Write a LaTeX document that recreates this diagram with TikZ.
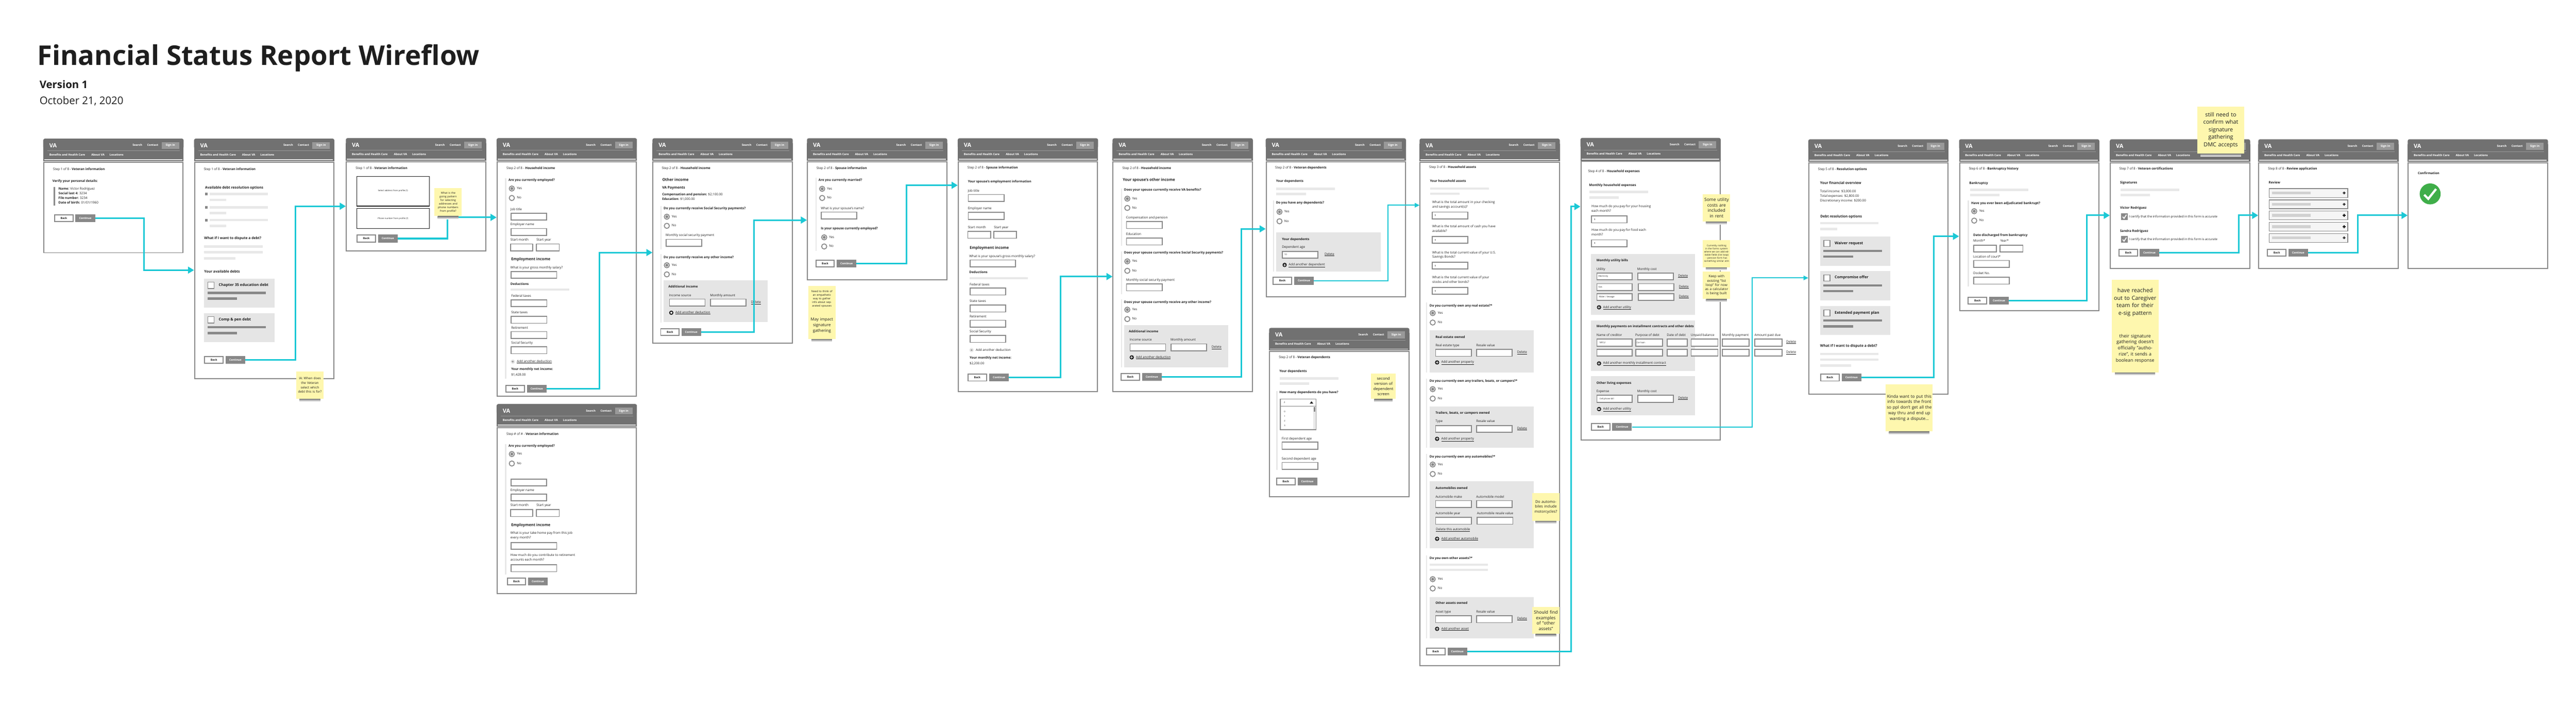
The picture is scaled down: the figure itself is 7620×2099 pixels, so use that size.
\documentclass[tikz,border=0pt]{standalone}
\usepackage{fontspec}
\setmainfont{Open Sans}
\usetikzlibrary{arrows.meta}
\definecolor{hdr}{HTML}{717171}
\definecolor{edge}{HTML}{888888}
\definecolor{signb}{HTML}{999999}
\definecolor{pale}{HTML}{E8E8E8}
\definecolor{panel}{HTML}{E5E5E5}
\definecolor{darkbar}{HTML}{888888}
\definecolor{cyanflow}{HTML}{1BC8D5}
\definecolor{note}{HTML}{FEF7AE}
\definecolor{ink}{HTML}{1E1E1E}
\definecolor{okgreen}{HTML}{3FAE49}
\newcount\nn
\newcommand\nextn{\global\advance\nn by 1\relax}
\newcommand\frg{\fontsize{9.55}{11}\selectfont}
\tikzset{
  txt/.style={anchor=west,inner sep=0pt,text height=7pt,text depth=2.2pt,text=ink,font=\frg},
  btxt/.style={txt,font=\frg\bfseries},
  head/.style={txt,font=\fontsize{11.3}{13}\selectfont\bfseries,text height=8pt,text depth=3pt},
  subhead/.style={txt,font=\fontsize{10.4}{12}\selectfont\bfseries,text height=7.6pt,text depth=2.6pt},
  small/.style={txt,font=\fontsize{6.4}{7}\selectfont},
  hlink/.style={anchor=west,inner sep=0pt,text=white,font=\fontsize{8.5}{10}\selectfont\bfseries,text height=6.4pt,text depth=1.8pt},
  framebox/.style={draw=edge,line width=3pt,fill=white,anchor=north west,inner sep=0pt},
  backb/.style={draw=edge,line width=3pt,fill=white,inner sep=0pt,minimum width=54.5pt,minimum height=20pt,anchor=west,text=ink,font=\fontsize{8}{9}\selectfont\bfseries},
  contb/.style={fill=edge,inner sep=0pt,minimum width=58pt,minimum height=23pt,anchor=west,text=white,font=\fontsize{8}{9}\selectfont\bfseries},
  flowline/.style={draw=cyanflow,line width=4.6pt,-{Triangle[length=18pt,width=20pt]}},
  flowthin/.style={draw=cyanflow,line width=2.8pt,-{Triangle[length=14pt,width=13pt]}},
  stickynote/.style={fill=note,anchor=north west,inner sep=3pt,align=center,text=ink},
  inbox/.style={draw=edge,line width=2.6pt,fill=white},
}
\newcommand\tx[3]{\nextn\node[txt] (n\the\nn) at (#1,#2) {#3};}
\newcommand\bx[3]{\nextn\node[btxt] (n\the\nn) at (#1,#2) {#3};}
\newcommand\hx[3]{\nextn\node[head] (n\the\nn) at (#1,#2) {#3};}
\newcommand\shx[3]{\nextn\node[subhead] (n\the\nn) at (#1,#2) {#3};}
\newcommand\sx[3]{\nextn\node[small] (n\the\nn) at (#1,#2) {#3};}
\newcommand\ulx[3]{\nextn\node[txt] (n\the\nn) at (#1,#2) {\underline{#3}};}
\newcommand\gbar[3]{\fill[pale] ({#1},{#2-3.5}) rectangle ({#1+#3},{#2+3.5});}
\newcommand\dbar[3]{\fill[darkbar] ({#1},{#2-3.5}) rectangle ({#1+#3},{#2+3.5});}
\newcommand\vb[3]{\fill[pale] ({#1},{#2}) rectangle ({#1+4},{#3});}
\newcommand\pan[4]{\fill[panel] ({#1},{#2}) rectangle ({#1+#3},{#4});}
\newcommand\inp[3]{\draw[inbox] ({#1+1.3},{#2+1.3}) rectangle ({#1+#3-1.3},{#2+21.7});}
\newcommand\yn[4]{%
  \draw[edge,line width=2.6pt,fill=white] (#1,#2) circle[radius=7.6pt];
  \fill[edge] (#1,#2) circle[radius=4.4pt];
  \tx{#4}{#2}{Yes}
  \draw[edge,line width=2.6pt,fill=white] (#1,#3) circle[radius=7.6pt];
  \tx{#4}{#3}{No}}
\newcommand\plusd[2]{\fill[ink] (#1,#2) circle[radius=6.4pt];
  \fill[white] ({#1-3.6},{#2-1}) rectangle ({#1+3.6},{#2+1}); \fill[white] ({#1-1},{#2-3.6}) rectangle ({#1+1},{#2+3.6});}
\newcommand\plusl[2]{\fill[panel] (#1,#2) circle[radius=6.4pt];
  \fill[darkbar] ({#1-3},{#2-.7}) rectangle ({#1+3},{#2+.7}); \fill[darkbar] ({#1-.7},{#2-3}) rectangle ({#1+.7},{#2+3});}
\newcommand\chk[2]{\draw[edge,line width=1.8pt,fill=white] ({#1+.9},{#2-9.5}) rectangle ({#1+19.1},{#2+9.5});}
\newcommand\card[4]{\fill[panel] (#1,#2) rectangle ({#1+208},{#3});
  \chk{#1+10}{#2+20}
  \nextn\node[txt,font=\fontsize{11.1}{13}\selectfont\bfseries] (n\the\nn) at ({#1+43},{#2+20}) {#4};
  \dbar{#1+10}{#2+42}{173} \dbar{#1+10}{#2+59}{87}}
\newcommand\btns[4]{\node[backb] (#1-back) at (#2,#4) {Back}; \node[contb] (#1-cont) at (#3,#4) {Continue};}
% screen: name, x, y, height
\newenvironment{screen}[4]{%
 \begin{scope}[shift={(#2,#3)}]
  \node[framebox,minimum width=412pt,minimum height={#4-71}] (#1) at (0,68) {};
  \fill[hdr,rounded corners=5pt] (0,0) rectangle (415,30);
  \fill[hdr] (0,15) rectangle (415,67);
  \draw[signb,line width=.8pt] (12,36) -- (404,36);
  \fill[white!90!black] (3,61) rectangle (411,64);
  \fill[signb] (350,10) rectangle (402,31);
  \nextn\node[hlink,font=\fontsize{16.7}{19}\selectfont\bfseries,text height=12pt,text depth=0pt] (n\the\nn) at (18,20) {VA};
  \nextn\node[hlink] (n\the\nn) at (264,20.5) {Search};
  \nextn\node[hlink] (n\the\nn) at (307,20.5) {Contact};
  \nextn\node[hlink,anchor=center] (n\the\nn) at (376,20.5) {Sign in};
  \nextn\node[hlink] (n\the\nn) at (18,48) {Benefits and Health Care};
  \nextn\node[hlink] (n\the\nn) at (142,48) {About VA};
  \nextn\node[hlink] (n\the\nn) at (196,48) {Locations};
}{\end{scope}}
% sticky: x,y,w,h,size,step,text
\newcommand\sticky[7]{%
  \shade[top color=black!55,bottom color=white] ({#1+10},{#2+#4}) rectangle ({#1+#3-10},{#2+#4+9});
  \nextn\node[stickynote,minimum width=#3,minimum height=#4,text width=#3-6,font=\fontsize{#5}{#6}\selectfont] (note\the\nn) at (#1,#2) {#7};}
\newcommand\stickyflat[7]{%
  \nextn\node[stickynote,minimum width=#3,minimum height=#4,text width=#3-6,font=\fontsize{#5}{#6}\selectfont] (note\the\nn) at (#1,#2) {#7};}
\newcommand\flow[4][flowline]{\coordinate (elb-#2) at (#3,0);
  \draw[#1] (#2.east) -| (elb-#2 |- #4) -- (#4);}
\begin{document}
\begin{tikzpicture}[x=1pt,y=-1pt]
\useasboundingbox (0,0) rectangle (7620,2099);
\fill[white] (0,0) rectangle (7620,2099);
\node[anchor=base west,inner sep=0pt,text=ink,font=\fontsize{80.3}{90}\selectfont\bfseries] (title) at (110,193) {Financial Status Report Wireflow};
\node[anchor=base west,inner sep=0pt,text=ink,font=\fontsize{31}{34}\selectfont\bfseries] (version) at (117,262) {Version 1};
\node[anchor=base west,inner sep=0pt,text=ink,font=\fontsize{31}{34}\selectfont] (date) at (117,308) {October 21, 2020};

% 1
\begin{screen}{s1}{128}{410}{339}
\tx{29}{92}{Step 1 of 8 - \textbf{Veteran information}}
\bx{27}{127}{Verify your personal details:}
\fill[edge] (31,143) rectangle (35,198);
\tx{45}{149}{\textbf{Name:} Victor Rodriguez}
\tx{45}{163}{\textbf{Social last 4:} 3234}
\tx{45}{177}{\textbf{File number:} 3234}
\tx{45}{190.7}{\textbf{Date of birth:} 01/01/1960}
\btns{s1}{32}{95}{236}
\end{screen}
% 2
\begin{screen}{s2}{574}{410}{711}
\tx{29}{92}{Step 1 of 8 - \textbf{Veteran information}}
\shx{32.5}{146}{Available debt resolution options}
\foreach \yy in {164,203,241}{
 \fill[darkbar] (32.5,\yy-4) rectangle (40.5,\yy+4);
 \gbar{46}{\yy}{173} \gbar{46}{\yy+17}{49}}
\shx{30}{296}{What if I want to dispute a debt?}
\gbar{30}{319}{173}\gbar{30}{336}{173}\gbar{30}{354}{92}
\shx{30}{394}{Your available debts}
\card{30}{414}{500}{Chapter 35 education debt}
\card{30}{516}{602}{Comp \& pen debt}
\btns{s2}{30}{93}{655}
\end{screen}
% 3
\begin{screen}{s3}{1023}{408.6}{335}
\tx{29}{89}{Step 1 of 8 - \textbf{Veteran information}}
\draw[ink,line width=1.6pt,fill=white] (32.5,113) rectangle (247,201);
\draw[ink,line width=1.6pt,fill=white] (32.5,208.5) rectangle (247,268);
\nextn\node[small,anchor=center] (n\the\nn) at (139.5,155) {Select address from profile (?)};
\nextn\node[small,anchor=center] (n\the\nn) at (139.5,237.5) {Phone number from profile (?)};
\btns{s3}{32}{95}{297}
\end{screen}
% 4
\begin{screen}{s4}{1469}{408.6}{765}
\tx{29}{89}{Step 2 of 8 - \textbf{Household income}}
\vb{25}{119}{712}
\bx{35}{125}{Are you currently employed?}
\yn{45}{149}{177}{60}
\tx{41}{211}{Job title}\inp{41}{220.5}{108}
\tx{41}{256}{Employer name}\inp{41}{266}{108}
\tx{41}{302}{Start month}\tx{118}{302}{Start year}
\inp{39.6}{311.6}{69}\inp{116.5}{311.6}{70}
\hx{43}{359}{Employment income}
\tx{41}{383}{What is your gross monthly salary?}\inp{42}{393}{137}
\bx{41}{432}{Deductions}\gbar{42}{448}{173}
\tx{43}{467}{Federal taxes}\inp{42}{477}{108}
\tx{43}{516}{State taxes}\inp{42}{526}{108}
\tx{43}{561.6}{Retirement}\inp{42}{571}{108}
\tx{43}{607}{Social Security}\inp{42}{616}{108}
\plusl{48}{661}\ulx{60}{661}{Add another deduction}
\bx{43}{684}{Your monthly net income:}\tx{43}{701}{\$1,428.00}
\btns{s4}{26}{89.5}{741}
\end{screen}
% 4b
\begin{screen}{s4b}{1469}{1195}{562}
\tx{29}{89}{Step \# of \# - \textbf{Veteran information}}
\vb{25}{118}{503.5}
\bx{35}{124}{Are you currently employed?}
\yn{45}{148}{176}{60}
\inp{41}{220.5}{108}
\tx{41}{255}{Employer name}\inp{41}{265}{108}
\tx{41}{300}{Start month}\tx{118}{300}{Start year}
\inp{39.6}{311}{69}\inp{116.5}{311}{70}
\hx{43}{359}{Employment income}
\tx{41}{382}{What is your take home pay from this job}
\tx{41}{396}{every month?}\inp{42}{408}{137}
\tx{41}{447}{How much do you contribute to retirement}
\tx{41}{461.6}{accounts each month?}\inp{42}{474}{137}
\btns{s4b}{30}{93}{525}
\end{screen}
% 5
\begin{screen}{s5}{1930}{409}{607}
\tx{27.5}{89}{Step 2 of 8 - \textbf{Household income}}
\hx{29}{124}{Other income}
\shx{28.5}{147.5}{VA Payments}
\tx{28.5}{167}{\textbf{Compensation and pension:} \$2,100.00}
\tx{28.5}{181}{\textbf{Education:} \$1,000.00}
\vb{23}{200.5}{328}
\bx{33}{208}{Do you currently receive Social Security payments?}
\yn{42.5}{232}{259}{57}
\tx{39}{287}{Monthly social security payment}\inp{39}{297.5}{108}
\vb{23}{343}{545}
\bx{33}{353.6}{Do you currently receive any other income?}
\yn{42.5}{375.5}{402.5}{57}
\pan{33}{420}{308}{544}
\bx{47}{440}{Additional income}
\tx{49}{465}{Income source}\tx{170.5}{465}{Monthly amount}
\inp{49}{474.5}{108}\inp{170.5}{474.5}{108}
\ulx{291.6}{486}{Delete}
\plusd{55.7}{516}\ulx{67.7}{516}{Add another deduction}
\btns{s5}{23}{85.5}{573}
\end{screen}
% 6
\begin{screen}{s6}{2387}{409}{420}
\tx{28}{89}{Step 2 of 8 - \textbf{Spouse information}}
\vb{25}{117}{333}
\bx{34.4}{124.5}{Are you currently married?}
\yn{45}{149.5}{176.5}{59.5}
\tx{41}{207.6}{What is your spouse's name?}\inp{41}{217}{108}
\bx{41}{268}{Is your spouse currently employed?}
\yn{51}{293}{320}{65.5}
\btns{s6}{25}{88}{370}
\end{screen}
% 7
\begin{screen}{s7}{2833}{409}{750}
\tx{28.7}{87}{Step 2 of 8 - \textbf{Spouse information}}
\bx{30}{128.6}{Your spouse's employment information}
\tx{30}{156.6}{Job title}\inp{30}{165}{108}
\tx{30}{208.7}{Employer name}\inp{30}{218}{108}
\tx{30}{264}{Start month}\tx{107}{264}{Start year}
\inp{28.7}{274}{70}\inp{105.6}{274}{70}
\hx{35.6}{325}{Employment income}
\tx{34}{349.5}{What is your spouse's gross monthly salary?}\inp{35}{358.7}{137}
\bx{34}{397}{Deductions}\gbar{35}{414}{173}
\tx{35}{433.7}{Federal taxes}\inp{35}{442}{108}
\tx{35}{482.6}{State taxes}\inp{35}{492}{108}
\tx{35}{527.5}{Retirement}\inp{35}{537}{108}
\tx{35}{572.4}{Social Security}\inp{35}{582}{108}
\plusl{40.8}{626.5}\tx{53.4}{626.5}{Add another deduction}
\bx{35}{650.5}{Your monthly net income:}\tx{35}{667}{\$2,200.00}
\btns{s7}{29}{93}{708}
\end{screen}
% 8
\begin{screen}{s8}{3291}{409}{750}
\tx{29}{89}{Step 2 of 8 - \textbf{Household income}}
\hx{30}{124}{Your spouse's other income}
\vb{24.7}{149.5}{318}
\bx{34}{153.6}{Does your spouse currently receive VA benefits?}
\yn{43.6}{178.6}{206}{58}
\tx{40}{235.7}{Compensation and pension}\inp{40}{245}{108}
\tx{40}{284.7}{Education}\inp{40}{294}{108}
\vb{24.7}{334.7}{460.7}
\bx{34}{339}{Does your spouse currently receive Social Security payments?}
\yn{43.6}{364}{392}{58}
\tx{40}{420}{Monthly social security payment}\inp{40}{429.6}{108}
\vb{24.7}{476}{677.5}
\bx{34}{485.7}{Does your spouse currently receive any other income?}
\yn{43.6}{507}{534.7}{58}
\pan{34.4}{553}{308}{677}
\bx{48}{572.4}{Additional income}
\tx{50.5}{597.4}{Income source}\tx{171.6}{597.4}{Monthly amount}
\inp{50.5}{607}{108}\inp{171.6}{607}{108}
\ulx{293}{618.4}{Delete}
\plusd{56.8}{648}\ulx{69}{648}{Add another deduction}
\btns{s8}{24}{87}{705.6}
\end{screen}
% 9
\begin{screen}{s9}{3744}{409}{470}
\tx{28}{87.7}{Step 2 of 8 - \textbf{Veteran dependents}}
\bx{30.4}{128}{Your dependents}
\gbar{31.6}{149.4}{173}\gbar{31.6}{165}{87}
\vb{21}{184}{393.5}
\bx{30.4}{190.8}{Do you have any dependents?}
\yn{40.8}{217.5}{245.5}{55}
\pan{31.6}{278.5}{308}{393.5}
\bx{48}{299}{Your dependents}
\tx{48}{322.7}{Dependent age}
\inp{48}{333}{108}\sx{55}{344}{10}
\ulx{174}{343.7}{Delete}
\plusd{56}{374.6}\ulx{68}{374.6}{Add another dependent}
\btns{s9}{20.7}{84}{421.6}
\end{screen}
% 9b
\begin{screen}{s9b}{3754}{970}{501}
\tx{28.7}{87.7}{Step 2 of 8 - \textbf{Veteran dependents}}
\bx{30.4}{128}{Your dependents}
\gbar{32}{149.4}{173}\gbar{32}{165}{86}
\vb{21}{187}{420}
\bx{30.4}{190.8}{How many dependents do you have?}
\draw[edge,line width=2.4pt,fill=white] (33,210.5) rectangle (139,231.5);
\draw[edge,line width=2.4pt,fill=white] (33,231.5) rectangle (139,301);
\sx{43.6}{220.5}{2}
\fill[ink] (120,224) -- (131,224) -- (125.5,217) -- cycle;
\fill[pale] (131,234) rectangle (137,299);
\fill[edge] (132,234) rectangle (136,248);
\sx{44}{247.6}{0}\sx{44}{261.8}{1}\sx{44}{275}{2}\sx{44}{289}{3}
\tx{37.3}{327.6}{First dependent age}\inp{37.3}{336.7}{108}
\tx{37.3}{387}{Second dependent age}\inp{37.3}{396.4}{108}
\btns{s9b}{20.7}{84}{454}
\end{screen}
% 10
\begin{screen}{s10}{4199}{410}{1561}
\tx{28.7}{85.7}{Step 3 of 8 - \textbf{Household assets}}
\bx{30.7}{126.5}{Your household assets}
\gbar{32}{148}{173}\gbar{32}{163}{87}
\tx{37.7}{188.8}{What is the total amount in your checking}
\tx{37.7}{203}{and savings account(s)?}\inp{36}{216}{108}\sx{45}{227.5}{\$}
\tx{37.7}{260}{What is the total amount of cash you have}
\tx{37.7}{273.5}{available?}\inp{36}{288}{108}\sx{45}{299.5}{\$}
\tx{37.7}{338}{What is the total current value of your U.S.}
\tx{37.7}{351}{Savings Bonds?}\inp{36}{364}{108}\sx{45}{375.5}{\$}
\tx{37.7}{411}{What is the total current value of your}
\tx{37.7}{425.5}{stocks and other bonds?}\inp{36}{439}{108}\sx{45}{450.5}{\$}
% real estate
\vb{19}{484.7}{692}
\bx{29.7}{495}{Do you currently own any real estate?*}
\yn{39}{516}{544}{54}
\pan{30}{567}{308}{692}
\bx{47}{588}{Real estate owned}
\tx{47}{612}{Real estate type}\tx{167.7}{612}{Resale value}
\inp{46.3}{622}{108}\inp{167.3}{622}{108}
\ulx{288.7}{632.7}{Delete}
\plusd{52}{662}\ulx{64.3}{662}{Add another property}
% trailers
\vb{19}{710}{915}
\bx{29.7}{718}{Do you currently own any trailers, boats, or campers?*}
\yn{39}{741}{769}{54}
\pan{30}{792}{308}{915}
\bx{47}{812}{Trailers, boats, or campers owned}
\tx{47}{837}{Type}\tx{167.7}{837}{Resale value}
\inp{46.3}{847}{108}\inp{167.3}{847}{108}
\ulx{288.7}{858}{Delete}
\plusd{52}{888}\ulx{64.3}{888}{Add another property}
% automobiles
\vb{19}{932.6}{1211}
\bx{29.7}{942}{Do you currently own any automobiles?*}
\yn{39}{964}{992}{54}
\pan{30}{1014}{308}{1211}
\bx{47}{1035}{Automobiles owned}
\tx{47}{1060}{Automobile make}\tx{167.7}{1060}{Automobile model}
\inp{46.3}{1069.4}{108}\inp{167.3}{1069.4}{108}
\tx{47}{1110}{Automobile year}\tx{170}{1110}{Automobile resale value}
\inp{46.3}{1119}{108}\inp{169.3}{1119}{108}
\ulx{48.3}{1157}{Delete this automobile}
\plusd{52}{1183.7}\ulx{64.3}{1183.7}{Add another automobile}
% other
\vb{19}{1232.6}{1478.6}
\bx{29.7}{1242}{Do you own other assets?*}
\gbar{30}{1260}{173}\gbar{30}{1275.5}{173}
\yn{39}{1303}{1330.6}{54}
\pan{30}{1356}{308}{1478.6}
\bx{47}{1374.5}{Other assets owned}
\tx{47}{1400}{Asset type}\tx{167.7}{1400}{Resale value}
\inp{46.3}{1410}{108}\inp{167.3}{1410}{108}
\ulx{288.7}{1420}{Delete}
\plusd{52}{1450}\ulx{64.3}{1450}{Add another asset}
\btns{s10}{19.3}{82.7}{1517}
\end{screen}
% 11
\begin{screen}{s11}{4675}{408}{895}
\tx{22.5}{99}{Step 4 of 8 - \textbf{Household expenses}}
\bx{25.5}{140}{Monthly household expenses}
\gbar{26.5}{160}{173}\gbar{26.5}{176.5}{87}
\tx{32.6}{203}{How much do you pay for your housing}
\tx{32.6}{216}{each month?}\inp{31}{229.6}{108}\sx{40}{241}{\$}
\tx{32.6}{273.5}{How much do you pay for food each}
\tx{32.6}{286.7}{month?}\inp{31}{300}{108}\sx{40}{311.5}{\$}
\pan{31}{344}{308}{523}
\bx{47.4}{363}{Monthly utility bills}
\tx{47.4}{389}{Utility}\tx{168}{389}{Monthly cost}
\inp{47.4}{398}{107}\inp{168}{398}{108}\sx{53}{408.5}{Electricity}\ulx{289}{408}{Delete}
\inp{47.4}{429.6}{107}\inp{170}{429.6}{108}\sx{53}{440.5}{Gas}\ulx{291}{440}{Delete}
\inp{47.4}{459}{107}\inp{170}{459}{108}\sx{54.5}{470}{Water / Sewage}\ulx{291}{469}{Delete}
\plusd{55}{501}\ulx{66.8}{501}{Add another utility}
\pan{31}{540}{308}{690}
\bx{47.4}{558}{Monthly payments on installment contracts and other debts}
\tx{47.4}{583.7}{Name of creditor}\tx{162}{583.7}{Purpose of debt}\tx{255.6}{583.7}{Date of debt}\tx{326.5}{583.7}{Unpaid balance}\tx{419}{583.7}{Monthly payment}\tx{514.8}{583.7}{Amount past due}
\foreach \yy in {594,623.5}{
 \inp{47.4}{\yy}{107}\inp{162}{\yy}{82}\inp{255.6}{\yy}{62}\inp{326}{\yy}{82}\inp{418}{\yy}{82}\inp{514.3}{\yy}{83}}
\sx{56.6}{605}{NFCU}\sx{166}{605}{Car loan}
\ulx{608.7}{604}{Delete}\ulx{608.7}{634.7}{Delete}
\plusd{55}{667}\ulx{66.8}{667}{Add another monthly installment contract}
\pan{31}{705}{308}{820.4}
\bx{47.4}{725.5}{Other living expenses}
\tx{47.4}{750}{Expense}\tx{168}{750}{Monthly cost}
\inp{47.4}{760}{107}\inp{168}{760}{108}\sx{56.6}{771}{Cell phone bill}\ulx{289}{770}{Delete}
\plusd{55}{802}\ulx{66.8}{802}{Add another utility}
\btns{s11}{31}{94}{855}
\end{screen}
% 12
\begin{screen}{s12}{5349}{412}{755}
\tx{28.7}{90}{Step 5 of 8 - \textbf{Resolution options}}
\shx{35}{131}{Your financial overview}
\tx{35}{154.5}{Total income: \$3,000.00}
\tx{35}{168.5}{Total expenses: \$2,800.00}
\tx{35}{182}{Discretionary income: \$200.00}
\shx{35.6}{229.7}{Debt resolution options}
\gbar{35}{248}{173}\gbar{35}{265}{50}
\card{35}{288}{374}{Waiver request}
\card{35}{390}{476}{Compromise offer}
\card{35}{494}{579}{Extended payment plan}
\shx{35}{612}{What if I want to dispute a debt?}
\gbar{35}{635}{173}\gbar{35}{651.5}{173}\gbar{35}{669}{92}
\btns{s12}{35}{98.7}{705}
\end{screen}
% 13
\begin{screen}{s13}{5795}{412}{508}
\tx{28.7}{88.5}{Step 6 of 8 - \textbf{Bankruptcy history}}
\bx{30}{129.7}{Bankruptcy}
\gbar{32}{149.7}{173}\gbar{32}{165}{87}
\vb{25}{181}{436}
\bx{35.6}{190}{Have you ever been adjudicated bankrupt?}
\yn{44.8}{212.7}{240.6}{59.7}
\bx{42}{283.6}{Date discharged from bankruptcy}
\tx{42}{301}{Month*}\tx{121.7}{301}{Year*}
\inp{42}{312}{70}\inp{120}{312}{70}
\tx{42}{348}{Location of court*}\inp{42}{357}{108}
\tx{42}{397.6}{Docket No.}\inp{42}{406.7}{108}
\btns{s13}{25.8}{89}{477}
\end{screen}
% 14
\begin{screen}{s14}{6241}{412}{384}
\tx{28}{88.3}{Step 7 of 8 - \textbf{Veteran certifications}}
\bx{30}{129.5}{Signatures}
\gbar{32}{149.6}{173}\gbar{32}{164.8}{87}
\bx{30}{204}{Victor Rodriguez}
\foreach \yy in {229,296.5}{
 \fill[edge] (33,\yy-10) rectangle (53,\yy+10);
 \draw[white,line width=2.6pt] (38,\yy) -- (42,\yy+5) -- (49,\yy-6);
 \nextn\node[txt,font=\fontsize{9.2}{11}\selectfont] (n\the\nn) at (57,\yy) {I certify that the information provided in this form is accurate};}
\bx{30}{271.5}{Sandra Rodriguez}
\btns{s14}{26}{88}{335.5}
\end{screen}
% 15
\begin{screen}{s15}{6680}{412}{384}
\tx{29}{88.3}{Step 8 of 8 - \textbf{Review application}}
\bx{31}{129.5}{Review}
\foreach \yy in {146,179.4,212,245.5,278.6}{
 \draw[edge,line width=2pt,fill=black!4] (32,\yy) rectangle (265,\yy+26);
 \fill[black!18] (40,\yy+9) rectangle (155,\yy+17);
 \fill[black] (250,\yy+12) rectangle (258,\yy+14);
 \fill[black] (253,\yy+9) rectangle (255,\yy+17);}
\btns{s15}{26}{89}{335.5}
\end{screen}
% 16
\begin{screen}{s16}{7122}{412}{384}
\bx{30}{101}{Confirmation}
\fill[okgreen] (66.5,161.5) circle[radius=31pt];
\draw[white,line width=6.5pt] (49,164) -- (61,176) -- (84,147);
\end{screen}

% connectors
\coordinate (s2-in) at (574,799);
\coordinate (s3-in) at (1023,610);
\coordinate (s4-in) at (1469,643);
\coordinate (s5-in) at (1930,747);
\coordinate (s6-in) at (2387,651);
\coordinate (s7-in) at (2833,548);
\coordinate (s8-in) at (3291,818);
\coordinate (s9-in) at (3744,677);
\coordinate (s10-in) at (4199,607);
\coordinate (s11-in) at (4675,611);
\coordinate (s12-in) at (5349,822);
\coordinate (s13-in) at (5795,699);
\coordinate (s14-in) at (6241,637);
\coordinate (s15-in) at (6680,637);
\coordinate (s16-in) at (7122,637);
\flow{s1-cont}{426}{s2-in}
\flow{s2-cont}{874}{s3-in}
\flow{s3-cont}{1323}{s4-in}
\flow{s4-cont}{1773}{s5-in}
\flow{s5-cont}{2230}{s6-in}
\flow{s6-cont}{2682}{s7-in}
\flow{s7-cont}{3137}{s8-in}
\flow{s8-cont}{3672}{s9-in}
\flow[flowthin]{s9-cont}{4106}{s10-in}
\flow{s10-cont}{4647}{s11-in}
\flow[flowthin]{s11-cont}{5183}{s12-in}
\flow{s12-cont}{5721}{s13-in}
\flow{s13-cont}{6173}{s14-in}
\flow{s14-cont}{6622}{s15-in}
\flow{s15-cont}{6975}{s16-in}

% notes
\sticky{876}{1099}{81}{80}{9.5}{13.3}{IA: When does the Veteran select which debt this is for?}
\sticky{1285}{556}{81}{83}{8}{10.7}{What is the going pattern for selecting addresses and phone numbers from profile?}
\stickyflat{2391}{846}{80}{77}{8}{10.7}{Need to think of an empathetic way to gather info about separated spouses}
\sticky{2391}{923}{80}{79}{12}{16.5}{May impact signature gathering}
\sticky{4055}{1105}{74}{75}{11.5}{15.5}{second version of dependent screen}
\sticky{4532}{1459}{81}{81}{11}{14.5}{Do automobiles include motorcycles?}
\sticky{4532}{1795}{81}{80}{13}{16.5}{Should find examples of "other assets"}
\sticky{5037}{574}{81}{81}{13}{16.5}{Some utility costs are included in rent}
\sticky{5037}{710}{81}{80}{7}{9.3}{Currently nothing in the forms system where we can add editable fields (list loop) - pension form has something similar atm}
\sticky{5037}{803}{81}{81}{10}{12.5}{Keep with existing "list loop" for now as a calculator is being built}
\sticky{5578}{1136}{139}{140}{12.5}{16.4}{Kinda want to put this info towards the front so ppl don't get all the way thru and end up wanting a dispute...}
\sticky{6499}{315}{140}{139}{16.5}{22}{still need to confirm what signature gathering DMC accepts}
\stickyflat{6246}{828}{139}{132}{16.5}{22}{have reached out to Caregiver team for their e-sig pattern}
\sticky{6246}{960}{139}{141}{13.5}{18}{their signature gathering doesn't officially "authorize", it sends a boolean response}
\end{tikzpicture}
\end{document}
